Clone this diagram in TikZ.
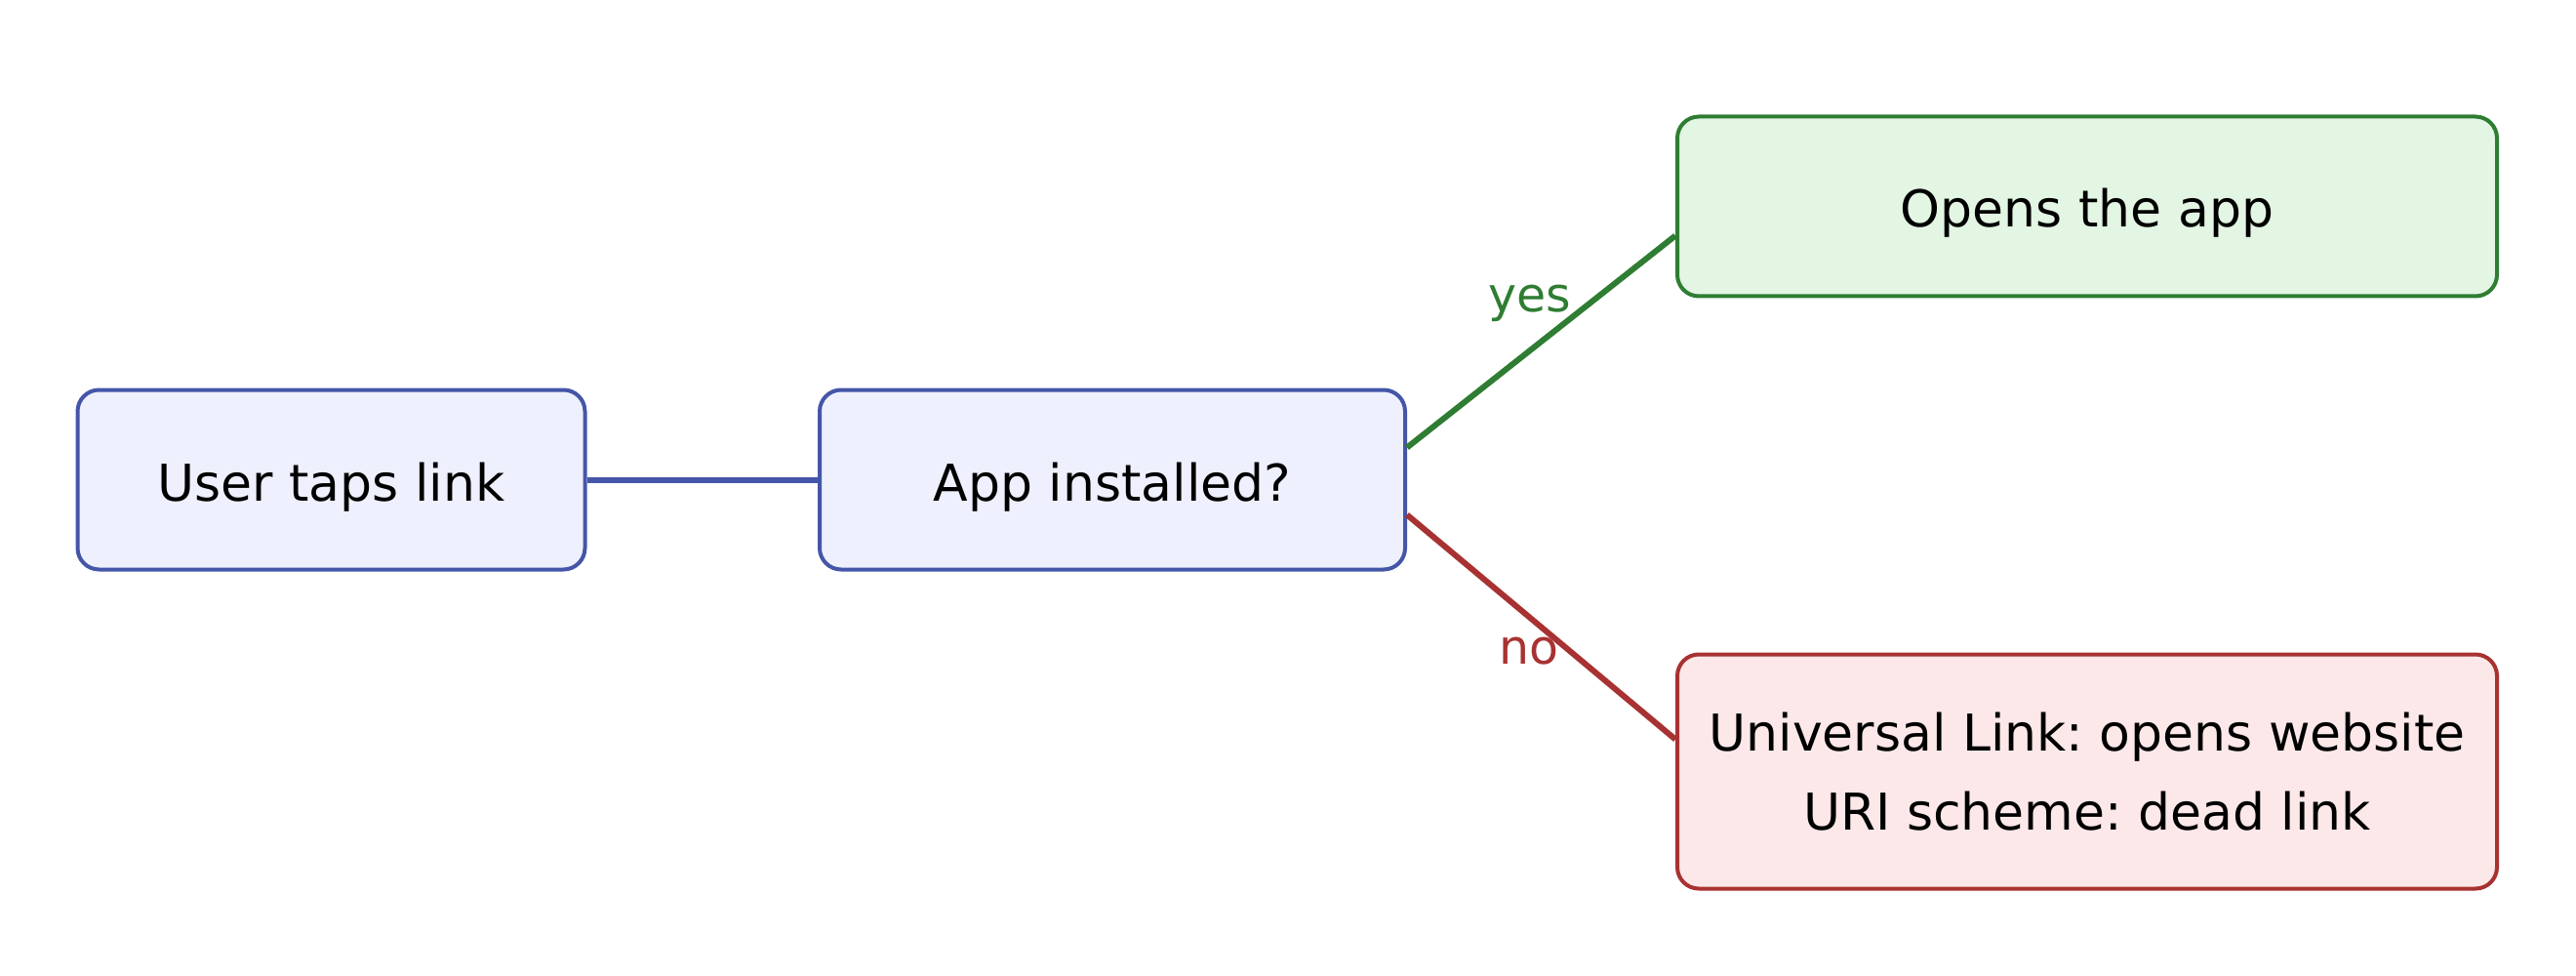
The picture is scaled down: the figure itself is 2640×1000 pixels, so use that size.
\documentclass[tikz,border=0pt]{standalone}
\usepackage{fontspec}
\setmainfont{DejaVu Sans}
\frenchspacing
\definecolor{bstroke}{HTML}{4556A8}
\definecolor{bfill}{HTML}{EEF0FD}
\definecolor{gstroke}{HTML}{2E7D32}
\definecolor{gfill}{HTML}{E3F5E3}
\definecolor{rstroke}{HTML}{A83232}
\definecolor{rfill}{HTML}{FCE8E8}
\tikzset{
  box/.style={draw, rounded corners=11pt, line width=2pt, inner sep=0pt, anchor=center,
    font=\fontsize{26}{40.5}\selectfont\frenchspacing, text=black},
  oneline/.style={text height=21.5pt, text depth=0pt},
  bluebox/.style={box, oneline, draw=bstroke, fill=bfill},
  greenbox/.style={box, oneline, draw=gstroke, fill=gfill},
  redbox/.style={box, align=center, draw=rstroke, fill=rfill},
  conn/.style={line width=3pt},
  lbl/.style={anchor=base, inner sep=0pt, font=\fontsize{24.5}{30}\selectfont},
}
\begin{document}
\begin{tikzpicture}[x=0.5pt,y=-0.5pt]
\useasboundingbox (0,0) rectangle (2640,1000);
\node[bluebox, minimum width=260pt, minimum height=92pt] (user) at (339.5,491.5) {User taps link};
\node[bluebox, minimum width=300pt, minimum height=92pt] (inst) at (1140,491.5) {App installed?};
\node[greenbox, minimum width=420pt, minimum height=92pt] (open) at (2139,211.5) {Opens the app};
\node[redbox, minimum width=420pt, minimum height=120pt] (web) at (2139,790.5) {Universal Link: opens website\\URI scheme: dead link};
\draw[conn, draw=bstroke] (user.east) -- (inst.west);
\draw[conn, draw=gstroke] ([yshift=16.5pt]inst.east) -- ([yshift=-15pt]open.west);
\draw[conn, draw=rstroke] ([yshift=-18pt]inst.east) -- ([yshift=16.5pt]web.west);
\node[lbl, text=gstroke] (yes) at (1568,320) {yes};
\node[lbl, text=rstroke] (no) at (1567,680) {no};
\end{tikzpicture}
\end{document}
